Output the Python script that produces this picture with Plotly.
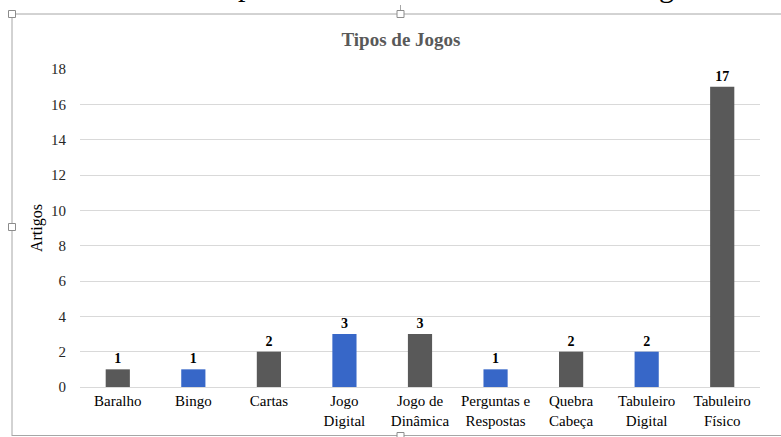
import plotly.graph_objects as go

# Game types and number of articles for each
categorias = [
    "Baralho", "Bingo", "Cartas", "Jogo<br>Digital", "Jogo de<br>Dinâmica",
    "Perguntas e<br>Respostas", "Quebra<br>Cabeça", "Tabuleiro<br>Digital", "Tabuleiro<br>Físico",
]
artigos = [1, 1, 2, 3, 3, 1, 2, 2, 17]
y_ticks = [0, 2, 4, 6, 8, 10, 12, 14, 16, 18]

SERIF = "Liberation Serif, Times New Roman, serif"
CINZA = "#595959"
AZUL = "#3767C8"
cores = [CINZA if i % 2 == 0 else AZUL for i in range(len(categorias))]

W, H = 781, 437
L, R, T, B = 80, 21, 69, 50
pw, ph = W - L - R, H - T - B

def px(x):
    return (x - L) / pw

def py(y):
    return (H - B - y) / ph

fig = go.Figure(
    go.Bar(
        x=categorias,
        y=artigos,
        width=0.32,
        marker=dict(color=cores, line=dict(width=0)),
        text=artigos,
        texttemplate="<b>%{text}</b>",
        textposition="outside",
        cliponaxis=False,
        textfont=dict(family=SERIF, size=14, color="#000000"),
    )
)

# document frame around the chart object
frame = "#A6A6A6"
shapes = [
    dict(type="line", xref="paper", yref="paper", x0=px(11), x1=px(781), y0=py(14), y1=py(14),
         line=dict(color=frame, width=1)),
    dict(type="line", xref="paper", yref="paper", x0=px(12), x1=px(12), y0=py(14), y1=py(436),
         line=dict(color=frame, width=1)),
    dict(type="line", xref="paper", yref="paper", x0=px(12), x1=px(781), y0=py(435.5), y1=py(435.5),
         line=dict(color=frame, width=1)),
    dict(type="line", xref="paper", yref="paper", x0=px(400.5), x1=px(400.5), y0=py(5), y1=py(11),
         line=dict(color=frame, width=1)),
]
for hx, hy in [(12, 14), (400.5, 14), (12, 227), (400.5, 436)]:
    shapes.append(dict(type="rect", xref="paper", yref="paper",
                       x0=px(hx - 3.5), x1=px(hx + 3.5), y0=py(hy - 3.5), y1=py(hy + 3.5),
                       fillcolor="white", line=dict(color="#8C8C8C", width=1)))

# descenders of the document line above the chart
annotations = [
    dict(text="p", xref="paper", yref="paper", x=px(245), y=py(4), showarrow=False,
         xanchor="center", yanchor="bottom", font=dict(family=SERIF, size=30, color="#000")),
    dict(text="g", xref="paper", yref="paper", x=px(666), y=py(5), showarrow=False,
         xanchor="center", yanchor="bottom", font=dict(family=SERIF, size=30, color="#000")),
]

fig.update_layout(
    width=W, height=H,
    margin=dict(l=L, r=R, t=T, b=B, autoexpand=False),
    paper_bgcolor="white", plot_bgcolor="white",
    showlegend=False,
    title=dict(text="<b>Tipos de Jogos</b>", x=px(401), xref="paper", xanchor="center",
               y=1 - 39 / H, yanchor="middle", automargin=False,
               font=dict(family=SERIF, size=19, color=CINZA)),
    font=dict(family=SERIF, size=15, color="#262626"),
    shapes=shapes,
    annotations=annotations,
)
fig.update_xaxes(
    showline=True, linecolor="#D9D9D9", linewidth=1, automargin=False,
    ticks="", tickfont=dict(family=SERIF, size=15, color="#000000"),
)
fig.update_yaxes(
    range=[0, 18], tickvals=y_ticks, showgrid=True, gridcolor="#D9D9D9", gridwidth=1,
    zeroline=False, ticks="", ticklabelstandoff=13, automargin=False,
    tickfont=dict(family=SERIF, size=15, color="#262626"),
    title=dict(text="Artigos", standoff=4, font=dict(family=SERIF, size=16, color="#000000")),
)

fig.write_html("out.html")
